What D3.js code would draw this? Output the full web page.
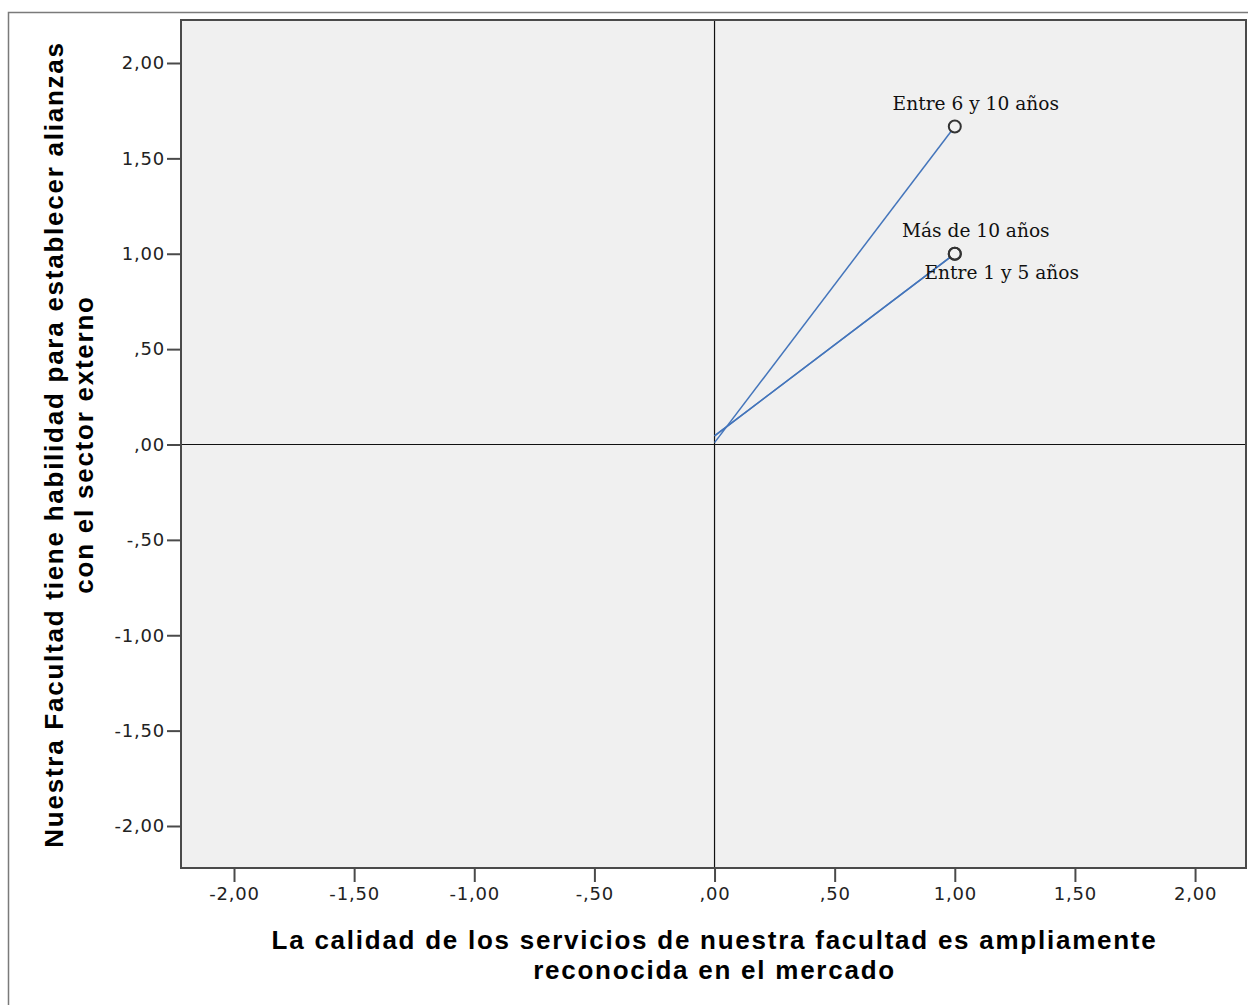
<!DOCTYPE html>
<html>
<head>
<meta charset="utf-8">
<script src="https://cdn.jsdelivr.net/npm/d3@7"></script>
<style>
  body { margin: 0; background: #fff; }
  svg { display: block; }
</style>
</head>
<body>
<div class="chart"></div>
<script>
// category labels and their coordinates
const groups = ["Entre 6 y 10 años", "Más de 10 años", "Entre 1 y 5 años"];
const xValues = [1.00, 1.00, 1.00];
const yValues = [1.667, 1.00, 1.00];
// where each spike line leaves the origin
const spikeStartY = [0.01, 0.045, 0.045];
const tickValues = [-2, -1.5, -1, -0.5, 0, 0.5, 1, 1.5, 2];
const tickLabels = ["-2,00", "-1,50", "-1,00", "-,50", ",00", ",50", "1,00", "1,50", "2,00"];
const xTitle = ["La calidad de los servicios de nuestra facultad es ampliamente", "reconocida en el mercado"];
const yTitle = ["Nuestra Facultad tiene habilidad para establecer alianzas", "con el sector externo"];

const W = 1248, H = 1005;
let xDomain = [-2.2206, 2.212];
let yDomain = [-2.2202, 2.2254];

let svg = d3.select('.chart')
  .append('svg')
  .attr('width', W)
  .attr('height', H);

// outer frame (runs off the right/bottom edge)
svg.append("rect")
  .attr("x", 8.5).attr("y", 12.5)
  .attr("width", W + 20).attr("height", H + 20)
  .attr("fill", "none")
  .attr("stroke", "#7a7a7a")
  .attr("stroke-width", 1.5);

let x = d3.scaleLinear().domain(xDomain).range([181, 1246]);
let y = d3.scaleLinear().domain(yDomain).range([868, 20]);

let fmt = d => tickLabels[tickValues.indexOf(d)];

// plot background
svg.append("rect")
  .attr("x", x(xDomain[0])).attr("y", y(yDomain[1]))
  .attr("width", x(xDomain[1]) - x(xDomain[0]))
  .attr("height", y(yDomain[0]) - y(yDomain[1]))
  .attr("fill", "#f0f0f0");

// reference lines through zero
svg.append("line")
  .attr("x1", x(0)).attr("x2", x(0))
  .attr("y1", y(yDomain[1])).attr("y2", y(yDomain[0]))
  .attr("stroke", "#111").attr("stroke-width", 1.2);
svg.append("line")
  .attr("x1", x(xDomain[0])).attr("x2", x(xDomain[1]))
  .attr("y1", y(0)).attr("y2", y(0))
  .attr("stroke", "#111").attr("stroke-width", 1.2);

// frame of plot
svg.append("rect")
  .attr("x", x(xDomain[0])).attr("y", y(yDomain[1]))
  .attr("width", x(xDomain[1]) - x(xDomain[0]))
  .attr("height", y(yDomain[0]) - y(yDomain[1]))
  .attr("fill", "none")
  .attr("stroke", "#4a4a4a")
  .attr("stroke-width", 2);

let xAxis = svg.append("g")
  .attr("transform", "translate(0," + (y(yDomain[0]) + 1) + ")")
  .call(d3.axisBottom(x).tickValues(tickValues).tickFormat(fmt).tickSize(13).tickPadding(5));
let yAxis = svg.append("g")
  .attr("transform", "translate(" + (x(xDomain[0]) - 1) + ",0)")
  .call(d3.axisLeft(y).tickValues(tickValues).tickFormat(fmt).tickSize(13).tickPadding(2));

[xAxis, yAxis].forEach(function(a){
  a.select(".domain").remove();
  a.selectAll(".tick line").attr("stroke", "#4a4a4a").attr("stroke-width", 2);
  a.selectAll(".tick text")
    .attr("fill", "#222")
    .style("font-family", "'DejaVu Sans', sans-serif")
    .style("font-size", "18px")
    .style("letter-spacing", "0.8px");
});

// spike lines from origin
let pts = groups.map(function(g, i){ return {name: g, x: xValues[i], y: yValues[i], y0: spikeStartY[i]}; });
let r = 6;
svg.selectAll(".spike")
  .data(pts)
  .enter()
  .append("line")
  .attr("class", "spike")
  .attr("x1", x(0)).attr("y1", function(d){ return y(d.y0); })
  .attr("x2", function(d){
    let dx = x(d.x) - x(0), dy = y(d.y) - y(d.y0), len = Math.sqrt(dx*dx + dy*dy);
    return x(d.x) - dx / len * r;
  })
  .attr("y2", function(d){
    let dx = x(d.x) - x(0), dy = y(d.y) - y(d.y0), len = Math.sqrt(dx*dx + dy*dy);
    return y(d.y) - dy / len * r;
  })
  .attr("stroke", "#4475bb")
  .attr("stroke-width", 1.5);

svg.selectAll(".pt")
  .data(pts)
  .enter()
  .append("circle")
  .attr("class", "pt")
  .attr("cx", function(d){ return x(d.x); })
  .attr("cy", function(d){ return y(d.y); })
  .attr("r", r)
  .attr("fill", "none")
  .attr("stroke", "#333")
  .attr("stroke-width", 2);

// label placement relative to the point
let labelOffset = {"Entre 6 y 10 años": [21, -17], "Más de 10 años": [21, -17], "Entre 1 y 5 años": [47, 25]};
svg.selectAll(".lbl")
  .data(pts)
  .enter()
  .append("text")
  .attr("class", "lbl")
  .attr("x", function(d){ return x(d.x) + labelOffset[d.name][0]; })
  .attr("y", function(d){ return y(d.y) + labelOffset[d.name][1]; })
  .attr("text-anchor", "middle")
  .style("font-family", "'DejaVu Serif', serif")
  .style("font-size", "18.6px")
  .attr("fill", "#111")
  .text(function(d){ return d.name; });

// axis titles
svg.append("text")
  .attr("text-anchor", "middle")
  .style("font-family", "'Liberation Sans', Arial, sans-serif")
  .style("font-weight", "bold")
  .style("font-size", "26px")
  .style("letter-spacing", "1.75px")
  .selectAll("tspan")
  .data(xTitle)
  .enter()
  .append("tspan")
  .attr("x", x(0))
  .attr("y", function(d, i){ return 949 + i * 30; })
  .text(function(d){ return d; });

svg.append("text")
  .attr("text-anchor", "middle")
  .attr("transform", "translate(0," + y(0) + ") rotate(-90)")
  .style("font-family", "'Liberation Sans', Arial, sans-serif")
  .style("font-weight", "bold")
  .style("font-size", "26px")
  .style("letter-spacing", "1.75px")
  .selectAll("tspan")
  .data(yTitle)
  .enter()
  .append("tspan")
  .attr("x", 0)
  .attr("y", function(d, i){ return 63 + i * 30; })
  .text(function(d){ return d; });
</script>
</body>
</html>
